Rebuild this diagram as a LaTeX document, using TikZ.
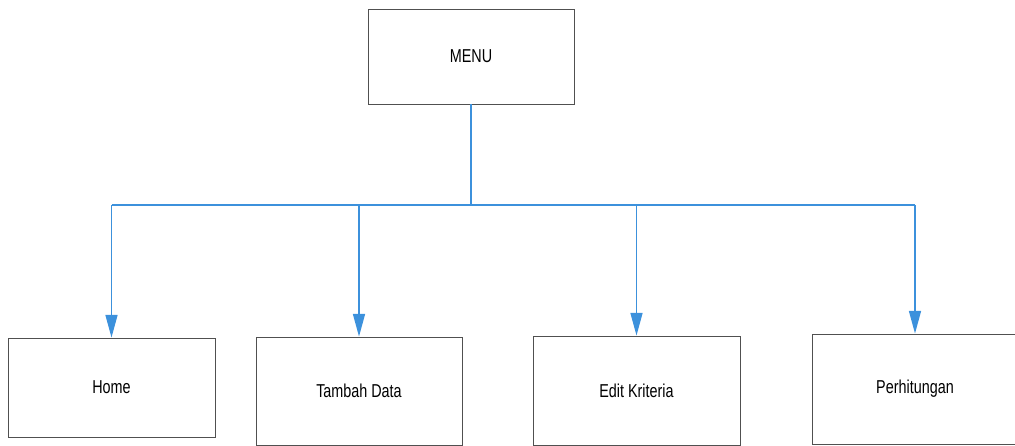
\documentclass[tikz,border=0pt]{standalone}
\usepackage{fontspec}
\setmainfont{Liberation Sans}[FakeStretch=0.77]
\usetikzlibrary{arrows.meta}
\definecolor{linkblue}{RGB}{60,145,220}
\definecolor{boxgray}{RGB}{80,80,80}
\begin{document}
\begin{tikzpicture}[x=0.75pt,y=-0.75pt,
  menubox/.style={draw=boxgray,line width=0.65pt,fill=white,inner sep=0pt,
    font=\fontsize{14}{16}\selectfont},
  link/.style={draw=linkblue,line width=1.1pt},
  arrowlink/.style={link,-{Triangle[length=17pt,width=9pt]}}]
\useasboundingbox (0,0) rectangle (1015,446);

% top menu
\node[menubox,minimum width=154.5pt,minimum height=71.25pt] (menu) at (471,56.5) {MENU};

% sub menus
\node[menubox,minimum width=155.25pt,minimum height=74.25pt] (home) at (111.5,387.5) {Home};
\node[menubox,minimum width=154.5pt,minimum height=81pt] (tambah) at (359,391) {Tambah Data};
\node[menubox,minimum width=155.25pt,minimum height=81.75pt] (edit) at (636.5,390.5) {Edit Kriteria};
\node[menubox,minimum width=154.5pt,minimum height=82.5pt] (hitung) at (915,389) {Perhitungan};

% distribution bus
\coordinate (bus) at (471,205);
\draw[link] (menu.south) -- (menu.south |- bus);
\draw[link] (home.north |- bus) -- (hitung.north |- bus);
\draw[arrowlink] (home.north |- bus) -- (home.north);
\draw[arrowlink] (tambah.north |- bus) -- (tambah.north);
\draw[arrowlink] (edit.north |- bus) -- (edit.north);
\draw[arrowlink] (hitung.north |- bus) -- (hitung.north);
\end{tikzpicture}
\end{document}
